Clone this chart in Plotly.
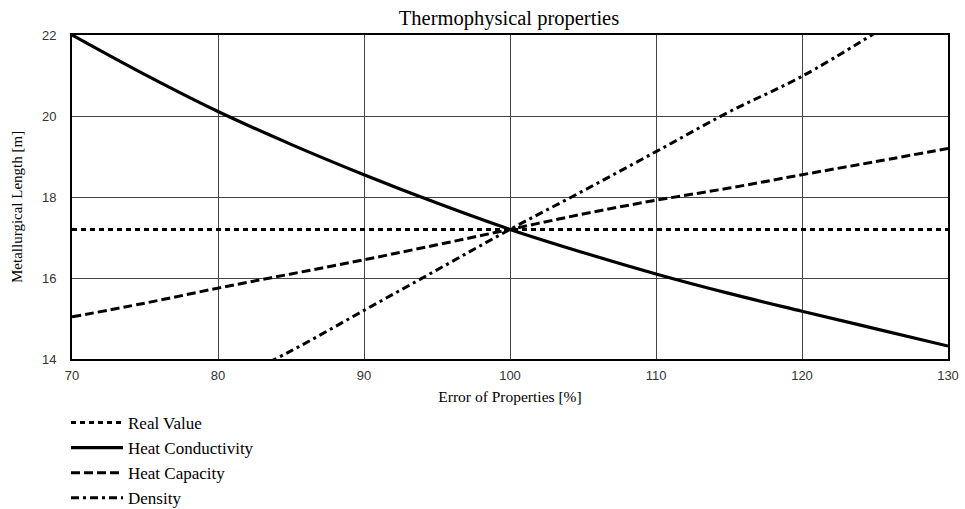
import plotly.graph_objects as go

x_err = [70, 75, 80, 85, 90, 95, 100, 105, 110, 115, 120, 125, 130]
real_value = [17.2] * 13
heat_conductivity = [22.0, 21.02, 20.11, 19.3, 18.55, 17.85, 17.2, 16.63, 16.1, 15.62, 15.18, 14.75, 14.32]
heat_capacity = [15.04, 15.38, 15.75, 16.1, 16.45, 16.82, 17.2, 17.58, 17.92, 18.22, 18.55, 18.87, 19.2]
x_density = [80, 85, 90, 95, 100, 105, 110, 115, 120, 125]
density = [13.3, 14.2, 15.2, 16.2, 17.2, 18.15, 19.12, 20.1, 20.98, 22.05]

x_ticks = [70, 80, 90, 100, 110, 120, 130]
y_ticks = [14, 16, 18, 20, 22]

serif = "Liberation Serif, Times New Roman, serif"
sans = "Liberation Sans, Arial, sans-serif"
W, H = 965, 509
L, R, T, B = 72, 17, 35, 150
PW, PH = W - L - R, H - T - B

fig = go.Figure()
fig.add_trace(go.Scatter(x=x_err, y=real_value, mode="lines", name="Real Value",
                         line=dict(color="black", width=3, dash="5px,4px")))
fig.add_trace(go.Scatter(x=x_err, y=heat_conductivity, mode="lines", name="Heat Conductivity",
                         line=dict(color="black", width=3.2, shape="spline")))
fig.add_trace(go.Scatter(x=x_err, y=heat_capacity, mode="lines", name="Heat Capacity",
                         line=dict(color="black", width=3, dash="9px,4px", shape="spline")))
fig.add_trace(go.Scatter(x=x_density, y=density, mode="lines", name="Density",
                         line=dict(color="black", width=3, dash="8px,4px,3px,4px", shape="spline")))

fig.update_layout(
    width=W, height=H,
    margin=dict(l=L, r=R, t=T, b=B, autoexpand=False),
    paper_bgcolor="white", plot_bgcolor="white",
    title=dict(text="Thermophysical properties", x=509 / W, xref="container", xanchor="center",
               y=1 - 18 / H, yref="container", yanchor="middle",
               font=dict(family=serif, size=20.5, color="black")),
    showlegend=True,
    legend=dict(x=66 / W, xref="container", xanchor="left",
                y=1 - 405 / H, yref="container", yanchor="top",
                font=dict(family=serif, size=17, color="black"),
                bgcolor="rgba(0,0,0,0)", tracegroupgap=0, itemwidth=52),
    xaxis=dict(range=[70, 130], tickvals=x_ticks, ticktext=[str(v) for v in x_ticks],
               showgrid=True, gridcolor="#444", gridwidth=1,
               showline=True, linecolor="black", linewidth=2, mirror=True,
               ticks="outside", ticklen=3, tickcolor="rgba(0,0,0,0)", zeroline=False,
               tickfont=dict(family=sans, size=13, color="#333"),
               title=dict(text="Error of Properties [%]", standoff=10,
                          font=dict(family=serif, size=15.5, color="black"))),
    yaxis=dict(range=[14, 22], tickvals=y_ticks, ticktext=[str(v) for v in y_ticks],
               showgrid=True, gridcolor="#444", gridwidth=1,
               showline=True, linecolor="black", linewidth=2, mirror=True,
               ticks="outside", ticklen=11, tickcolor="rgba(0,0,0,0)", zeroline=False,
               tickfont=dict(family=sans, size=13, color="#333")),
    annotations=[dict(text="Metallurgical Length [m]", textangle=-90, showarrow=False,
                      xref="paper", yref="paper", x=(17 - L) / PW, y=(H - B - 207) / PH,
                      xanchor="center", yanchor="middle",
                      font=dict(family=serif, size=15, color="black"))],
)

fig.write_html("out.html", config={"displayModeBar": False},
               post_script="document.body.style.margin='0px';")
